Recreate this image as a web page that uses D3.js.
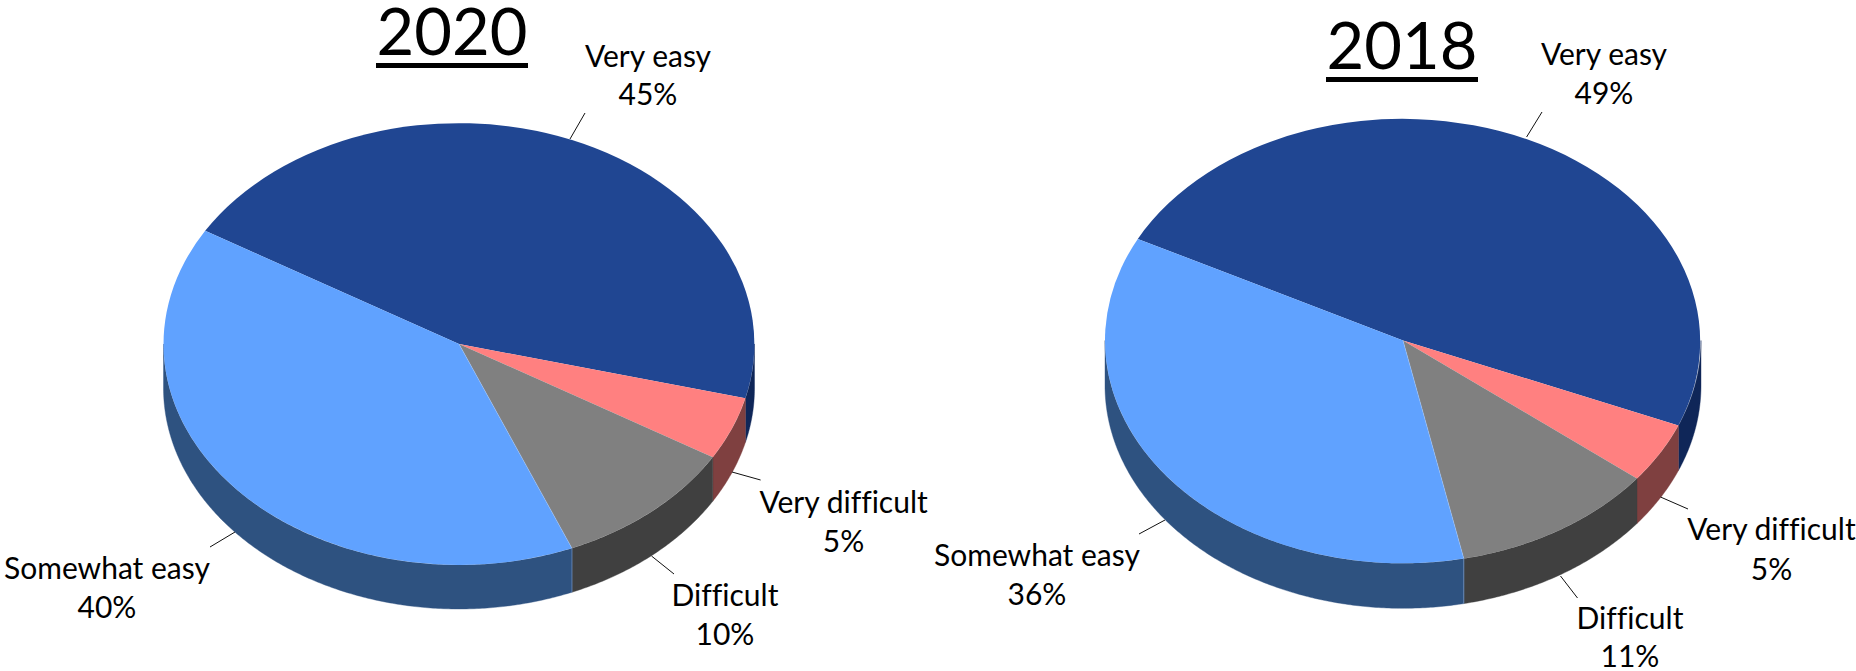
<!DOCTYPE html>
<html><head><meta charset="utf-8">
<script src="https://cdn.jsdelivr.net/npm/d3@7/dist/d3.min.js"></script>
<style>html,body{margin:0;padding:0;background:#fff}svg{display:block}text{font-family:Lato,sans-serif;fill:#000;font-variant-ligatures:none}</style>
</head><body><div id="c"></div>
<script>
// data
const categories = ["Very easy","Very difficult","Difficult","Somewhat easy"];
const values2020 = [45.4,4.6,10.2,39.8];
const values2018 = [48.7,4.4,11.1,35.8];
const shownPct2020 = [45,5,10,40];
const shownPct2018 = [49,5,11,36];
const topColors = ["#204692","#ff8080","#808080","#60a2ff"];
const wallColors = ["#0f2658","#7f4040","#404040","#2e5280"];

// layout
const W=1856,H=671,labelShift=1.5;
const pies=[
 {title:"2020",values:values2020,shown:shownPct2020,cx:459,cy:344,rx:295.5,ry:221,depth:44,start:300.8,
  titleX:452,titleY:55,ulY:63,ulH:5,ulX:[376,528],
  labels:[[648,65,103],[843.6,511,550],[725,604,643],[107,577,616]],
  leaders:[[585,113,570,139],[760.6,480,732,472],[674,574,651.5,556],[210,547,235,532]]},
 {title:"2018",values:values2018,shown:shownPct2018,cx:1403,cy:340.5,rx:298,ry:222.8,depth:45,start:297.1,
  titleX:1402,titleY:69,ulY:77,ulH:5,ulX:[1326,1478],
  labels:[[1604,63,102],[1771.5,538,578],[1630,627,665.5],[1037,564,603]],
  leaders:[[1542,112,1526.6,137],[1688,509,1660.5,497],[1577.5,598,1560.5,576],[1139,534,1165,520]]}
];
const svg=d3.select("#c").append("svg").attr("width",W).attr("height",H);
const rad=d=>d*Math.PI/180;
pies.forEach(p=>{
  const g=svg.append("g");
  const x=d3.scaleLinear().domain([-1,1]).range([p.cx-p.rx,p.cx+p.rx]);
  const y=d3.scaleLinear().domain([-1,1]).range([p.cy-p.ry,p.cy+p.ry]);
  const arcs=d3.pie().sort(null).startAngle(rad(p.start)).endAngle(rad(p.start+360))(p.values);
  const rim=t=>[x(Math.sin(t)),y(-Math.cos(t))];
  const line=d3.line();
  // side walls: the front half of the rim, angles 90..270 (mod 360)
  arcs.forEach((a,i)=>{
    [0,360].forEach(off=>{
      const lo=Math.max(a.startAngle,rad(90+off)),hi=Math.min(a.endAngle,rad(270+off));
      if(hi<=lo) return;
      const n=Math.ceil((hi-lo)/rad(0.5));
      const ts=d3.range(n+1).map(k=>lo+(hi-lo)*k/n);
      const upper=ts.map(rim);
      const lower=ts.slice().reverse().map(t=>{const q=rim(t);return [q[0],q[1]+p.depth];});
      g.append("path").attr("d",line(upper.concat(lower))+"Z")
       .attr("fill",wallColors[i]).attr("stroke",wallColors[i]).attr("stroke-width",0.4);
    });
  });
  // top face
  const arc=d3.arc().innerRadius(0).outerRadius(1);
  g.append("g").attr("transform",`translate(${p.cx},${p.cy}) scale(${p.rx},${p.ry})`)
   .selectAll("path").data(arcs).join("path").attr("d",arc).attr("fill",(d,i)=>topColors[i]);
  // hairline seam where the light blue slice meets the grey slice
  const s=rim(arcs[3].startAngle);
  g.append("path").attr("d",line([[p.cx,p.cy],s,[s[0],s[1]+p.depth]]))
   .attr("fill","none").attr("stroke","#a9ccff").attr("stroke-opacity",0.6).attr("stroke-width",0.7);
  // leaders
  g.selectAll("line.l").data(p.leaders).join("line").attr("class","l")
   .attr("x1",d=>d[0]).attr("y1",d=>d[1]).attr("x2",d=>d[2]).attr("y2",d=>d[3])
   .attr("stroke","#111").attr("stroke-width",1);
  // labels
  categories.forEach((c,i)=>{
    const L=p.labels[i];
    g.append("text").attr("x",L[0]).attr("y",L[1]+labelShift).attr("text-anchor","middle").attr("font-size",30).text(c);
    g.append("text").attr("x",L[0]).attr("y",L[2]+labelShift).attr("text-anchor","middle").attr("font-size",30).text(p.shown[i]+"%");
  });
  // title
  g.append("text").attr("x",p.titleX).attr("y",p.titleY).attr("text-anchor","middle").attr("font-size",65).text(p.title);
  g.append("rect").attr("x",p.ulX[0]).attr("y",p.ulY).attr("width",p.ulX[1]-p.ulX[0]).attr("height",p.ulH).attr("fill","#000");
});
</script></body></html>
